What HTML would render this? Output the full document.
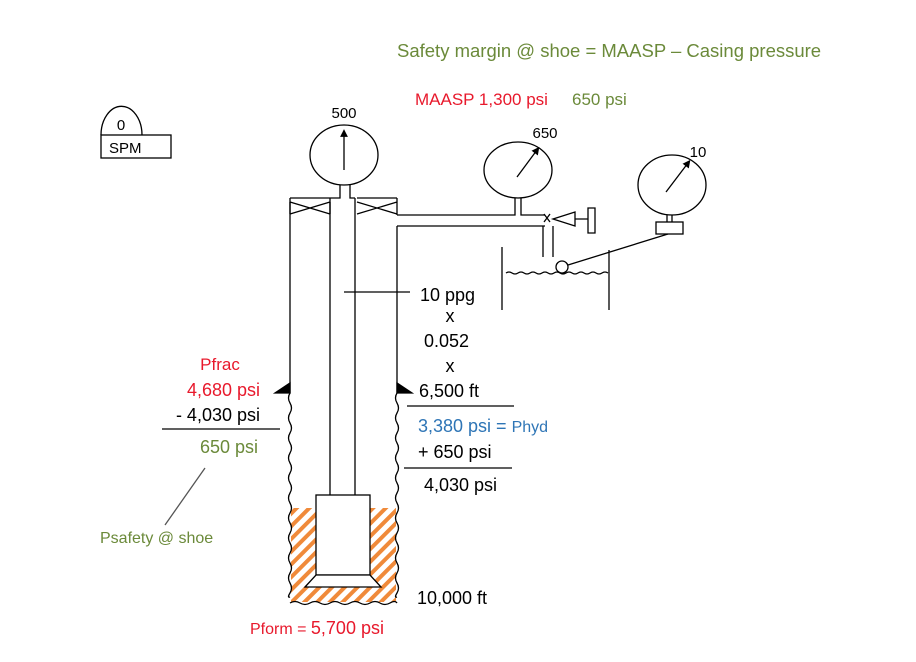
<!DOCTYPE html>
<html><head><style>body{margin:0;background:#fff}svg{display:block}text{font-family:"Liberation Sans",sans-serif}</style></head>
<body>
<svg width="916" height="662" viewBox="0 0 916 662" xmlns="http://www.w3.org/2000/svg">
<defs>
<pattern id="h" width="9" height="9" patternUnits="userSpaceOnUse" patternTransform="rotate(45)">
<rect width="4" height="9" fill="#f08a3a"/></pattern>
<marker id="a" markerWidth="6" markerHeight="6" refX="3" refY="3" orient="auto"><path d="M0,0L6,3L0,6z" fill="#000"/></marker>
</defs>
<g stroke="#000" fill="none" stroke-width="1.3">
<path d="M101,135 A20,28 0 0 1 142,135"/>
<rect x="101" y="135" width="70" height="23"/>
<rect x="291" y="508" width="105" height="94" fill="url(#h)" stroke="none"/>
<path d="M290,198 V393 q-3,5 0,10 q3,5 0,10 q-3,5 0,10 q3,5 0,10 q-3,5 0,10 q3,5 0,10 q-3,5 0,10 q3,5 0,10 q-3,5 0,10 q3,5 0,10 q-3,5 0,10 q3,5 0,10 q-3,5 0,10 q3,5 0,10 q-3,5 0,10 q3,5 0,10 q-3,5 0,10 q3,5 0,10 q-3,5 0,10 q3,5 0,10 q-3,5 0,4"/>
<path d="M397,226 V393 q-3,5 0,10 q3,5 0,10 q-3,5 0,10 q3,5 0,10 q-3,5 0,10 q3,5 0,10 q-3,5 0,10 q3,5 0,10 q-3,5 0,10 q3,5 0,10 q-3,5 0,10 q3,5 0,10 q-3,5 0,10 q3,5 0,10 q-3,5 0,10 q3,5 0,10 q-3,5 0,10 q3,5 0,10 q-3,5 0,10 q3,5 0,10 q-3,5 0,4"/>
<path d="M290,603 q5,-3 10,0 q5,3 10,0 q5,-3 10,0 q5,3 10,0 q5,-3 10,0 q5,3 10,0 q5,-3 10,0 q5,3 10,0 q5,-3 10,0 q5,3 10,0 q5,-3 7,0"/>
<path d="M290,393 l-15,0 l15,-10z" fill="#000"/>
<path d="M397,393 l15,0 l-15,-10z" fill="#000"/>
<path d="M290,198 H330 M357,198 H397"/>
<path d="M290,202 L330,214 M290,214 L330,202 M290,202V214 M330,202V214"/>
<path d="M357,202 L397,214 M357,214 L397,202 M397,198V215"/>
<path d="M330,198 V495 M355,198 V495 M330,198 H340 V185 M355,198 H350 V185"/>
<rect x="316" y="495" width="54" height="80" fill="#fff"/>
<path d="M316,575 L370,575 L381,587 L305,587 Z" fill="#fff"/>
<ellipse cx="344" cy="155" rx="34" ry="30"/>
<line x1="344" y1="170" x2="344" y2="133" marker-end="url(#a)"/>
<path d="M397,215 H515 V198 M521,198 V215 H545"/>
<path d="M397,226 H545"/>
<path d="M543,226 V257 M553,226 V257"/>
<ellipse cx="518" cy="170" rx="34" ry="28"/>
<line x1="517" y1="177" x2="537" y2="150" marker-end="url(#a)"/>
<path d="M544,214 L550,222 M550,214 L544,222"/>
<path d="M553,219 L575,212 V226 Z M575,219 H588 M588,208 V233 H595 V208 Z"/>
<path d="M502,247 V310 M609,250 V310"/>
<path d="M506,273 q3,-2 6,0 q3,2 6,0 q3,-2 6,0 q3,2 6,0 q3,-2 6,0 q3,2 6,0 q3,-2 6,0 q3,2 6,0 q3,-2 6,0 q3,2 6,0 q3,-2 6,0 q3,2 6,0 q3,-2 6,0 q3,2 6,0 q3,-2 6,0 q3,2 6,0 q3,-2 6,0"/>
<circle cx="562" cy="267" r="6"/>
<line x1="568" y1="265" x2="668" y2="234"/>
<ellipse cx="672" cy="185" rx="34" ry="30"/>
<line x1="666" y1="192" x2="688" y2="163" marker-end="url(#a)"/>
<rect x="656" y="222" width="27" height="12"/>
<path d="M667,215V222 M672,215V222"/>
<path d="M344,292 H410"/>
<path d="M407,406 H514 M404,468 H512 M162,429 H280"/>
<path d="M205,468 L165,525" stroke="#555"/>
</g>
<text x="397" y="57" font-size="18.5" fill="#6b8a3a">Safety margin @ shoe = MAASP – Casing pressure</text>
<text x="415" y="105" font-size="17" fill="#e8192c">MAASP 1,300 psi</text>
<text x="572" y="105" font-size="17" fill="#6b8a3a">650 psi</text>
<text x="344" y="118" font-size="15" text-anchor="middle">500</text>
<text x="545" y="138" font-size="15" text-anchor="middle">650</text>
<text x="698" y="157" font-size="15" text-anchor="middle">10</text>
<text x="121" y="130" font-size="15" text-anchor="middle">0</text>
<text x="109" y="153" font-size="15">SPM</text>
<g font-size="18">
<text x="420" y="301">10 ppg</text>
<text x="450" y="322" text-anchor="middle">x</text>
<text x="424" y="347">0.052</text>
<text x="450" y="372" text-anchor="middle">x</text>
<text x="419" y="397">6,500 ft</text>
<text x="418" y="432" fill="#2e75b6">3,380 psi = <tspan font-size="16">Phyd</tspan></text>
<text x="418" y="458">+ 650 psi</text>
<text x="424" y="491">4,030 psi</text>
<text x="417" y="604">10,000 ft</text>
<text x="220" y="370" fill="#e8192c" font-size="17" text-anchor="middle">Pfrac</text>
<text x="260" y="396" fill="#e8192c" text-anchor="end">4,680 psi</text>
<text x="260" y="421" text-anchor="end">- 4,030 psi</text>
<text x="258" y="453" fill="#6b8a3a" text-anchor="end">650 psi</text>
<text x="100" y="543" fill="#6b8a3a" font-size="16">Psafety @ shoe</text>
<text x="250" y="634" fill="#e8192c"><tspan font-size="16">Pform = </tspan>5,700 psi</text>
</g>
</svg>
</body></html>
